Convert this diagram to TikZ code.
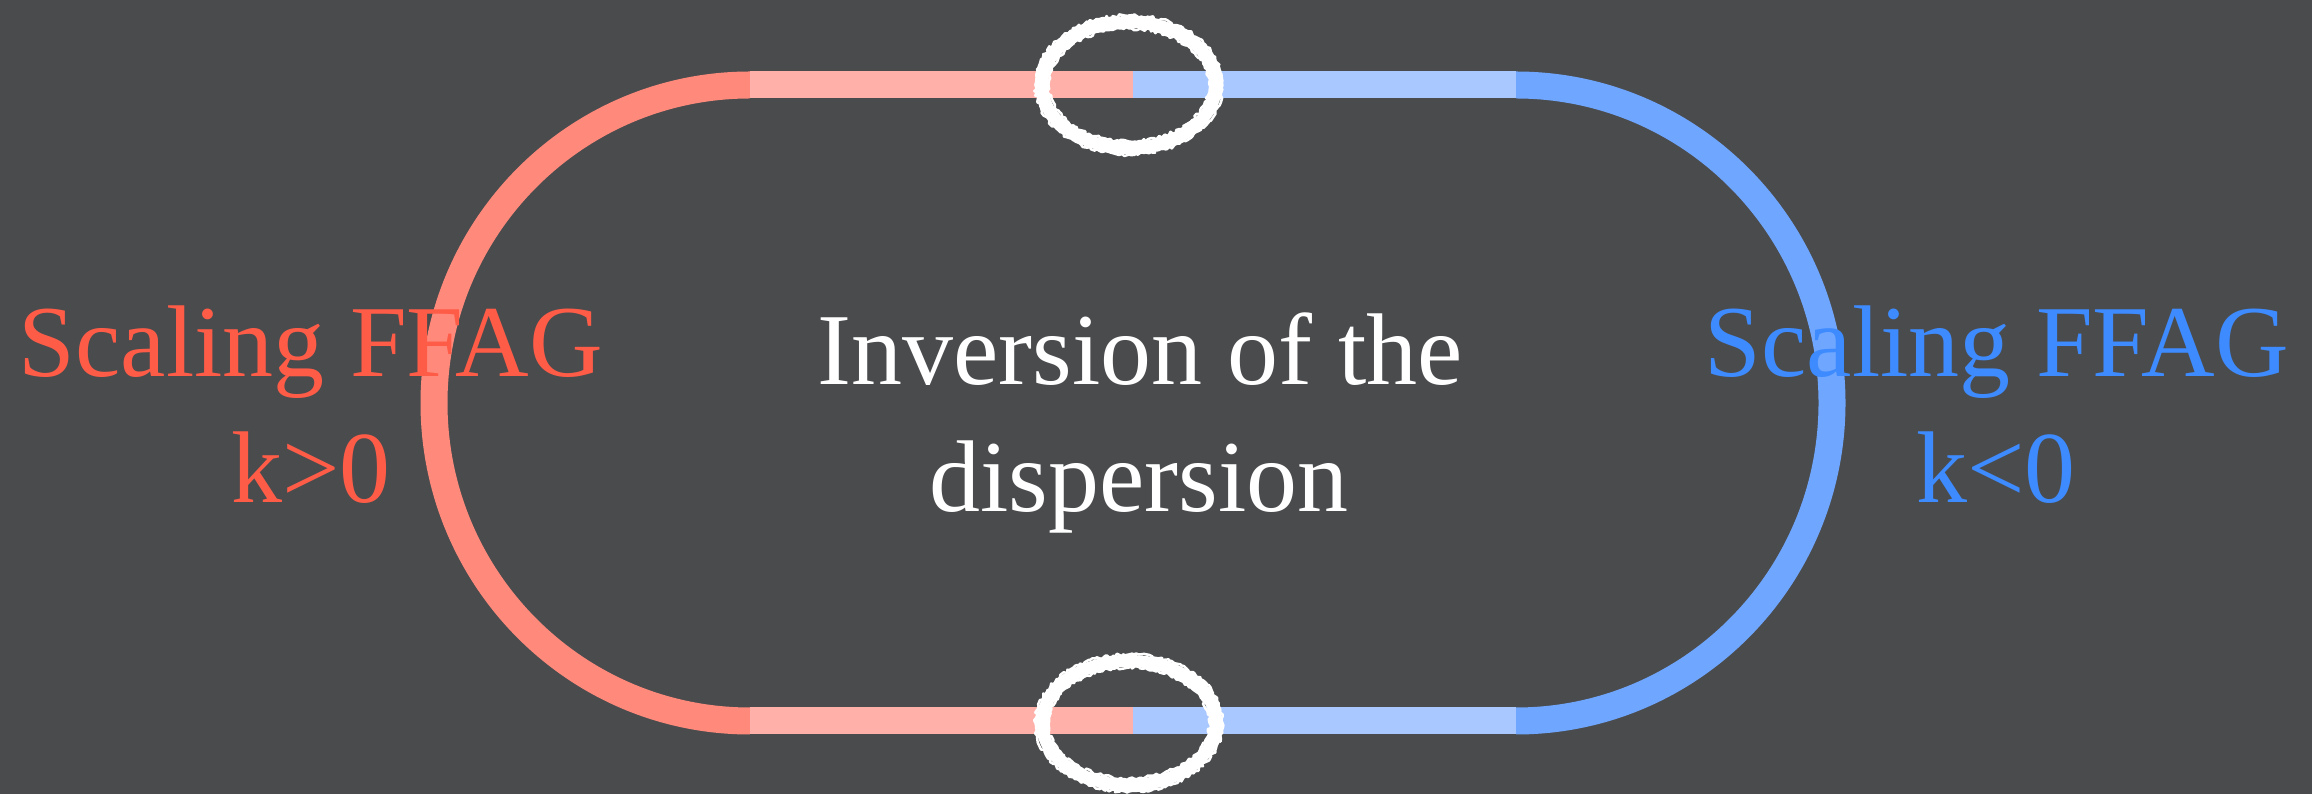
\documentclass[tikz,border=0pt]{standalone}
\usepackage{fontspec}
\setmainfont{Liberation Serif}
\usepackage{tikz}
\definecolor{boardbg}{RGB}{74,75,77}
\definecolor{redarc}{RGB}{255,138,124}
\definecolor{redline}{RGB}{255,177,169}
\definecolor{blueline}{RGB}{169,200,255}
\definecolor{bluearc}{RGB}{111,166,255}
\definecolor{redtext}{RGB}{255,92,72}
\definecolor{bluetext}{RGB}{61,139,255}
\usetikzlibrary{decorations.pathmorphing}

\begin{document}
\begin{tikzpicture}[
    track/.style={line width=0.27cm, line cap=butt},
    ring/.style={draw=white, line width=0.12cm},
    chalk/.style={draw=white, line width=0.025cm, line join=round,
                  decorate, decoration={random steps, segment length=0.7pt, amplitude=0.45pt}},
    label/.style={font=\fontsize{29}{36}\selectfont, anchor=base, inner sep=0pt}
]
    \useasboundingbox (0,0) rectangle (23.12,7.94);
    \fill[boardbg] (0,0) rectangle (23.12,7.94);
    % ring corners
    \coordinate (tl) at (7.50,7.09);
    \coordinate (tm) at (11.33,7.09);
    \coordinate (tr) at (15.16,7.09);
    \coordinate (bl) at (7.50,0.73);
    \coordinate (bm) at (11.33,0.73);
    \coordinate (br) at (15.16,0.73);
    \draw[track, redarc]  (tl) arc[start angle=90, end angle=270, x radius=3.16, y radius=3.18];
    \draw[track, bluearc] (tr) arc[start angle=90, end angle=-90, x radius=3.16, y radius=3.18];
    \draw[track, redline]  (tl) -- (tm);
    \draw[track, redline]  (bl) -- (bm);
    \draw[track, blueline] (tm) -- (tr);
    \draw[track, blueline] (bm) -- (br);
    % chalk rings
    \pgfmathsetseed{7}
    \coordinate (topring) at (11.29,7.09);
    \coordinate (botring) at (11.29,0.71);
    \draw[ring] (topring) ellipse[x radius=0.87, y radius=0.63];
    \draw[ring] (botring) ellipse[x radius=0.87, y radius=0.62];
    \foreach \dr in {-0.065,-0.045,0.045,0.065} {
        \draw[chalk] (topring) ellipse[x radius=0.87+\dr, y radius=0.63+\dr];
        \draw[chalk] (botring) ellipse[x radius=0.87+\dr, y radius=0.62+\dr];
    }
    % labels
    \node[label, text=redtext]  (redtitle)  at (3.11,4.17)  {Scaling FFAG};
    \node[label, text=redtext]  (redk)      at (3.11,2.91)  {k>0};
    \node[label, text=white]    (invtitle)  at (11.40,4.09) {Inversion of the};
    \node[label, text=white]    (invsub)    at (11.39,2.82) {dispersion};
    \node[label, text=bluetext] (bluetitle) at (19.97,4.17) {Scaling FFAG};
    \node[label, text=bluetext] (bluek)     at (19.96,2.91) {k<0};
\end{tikzpicture}
\end{document}
